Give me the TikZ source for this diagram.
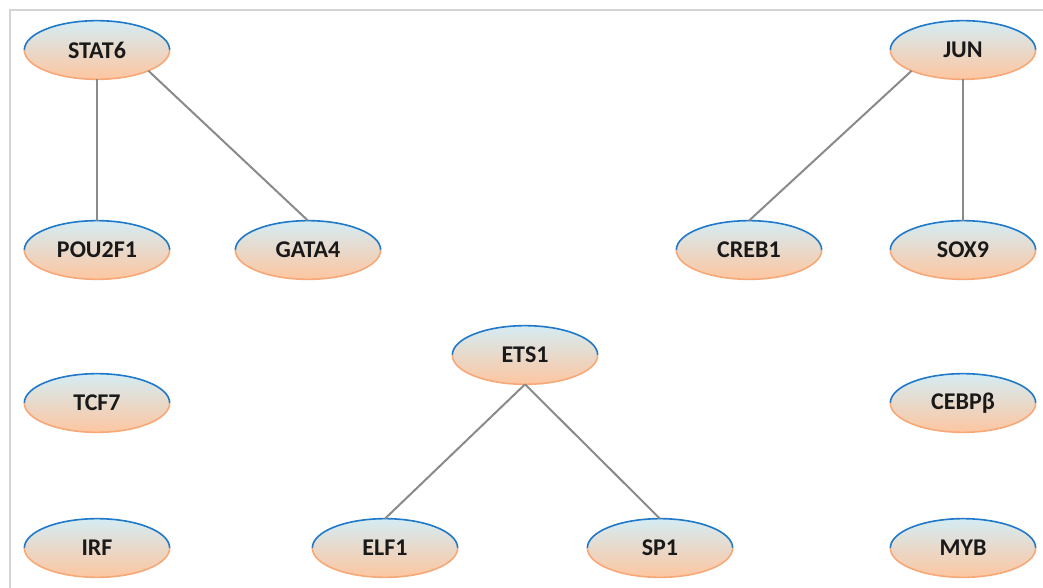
\documentclass[tikz,border=0pt]{standalone}
\usepackage{fontspec}
\setmainfont{Carlito}
\usetikzlibrary{shapes.geometric}
\definecolor{tfblue}{HTML}{1F78C8}
\definecolor{tforange}{HTML}{F7A878}
\definecolor{tftop}{HTML}{D4ECF4}
\definecolor{tfbottom}{HTML}{FDC6A0}
\definecolor{linkgray}{HTML}{8A8A8A}
\definecolor{framegray}{HTML}{D4D4D4}
\begin{document}
\begin{tikzpicture}[x=0.75pt,y=-0.75pt,
    tf/.style={ellipse,minimum width=109pt,minimum height=44pt,inner sep=0pt,outer sep=0pt,
        top color=tftop,bottom color=tfbottom,font=\bfseries\fontsize{18}{20}\selectfont,text=black!90},
    link/.style={linkgray,line width=1.5pt}]
    \useasboundingbox (0,0) rectangle (1043,588);
    % Frame
    \draw[framegray,line width=1.5pt] (10,588) -- (10,10) -- (1043,10);

    % Factors
    \node[tf] (stat6) at (97,50) {STAT6};
    \node[tf] (jun) at (963,50) {JUN};
    \node[tf] (pou2f1) at (97,250) {POU2F1};
    \node[tf] (gata4) at (308,250) {GATA4};
    \node[tf] (creb1) at (749,250) {CREB1};
    \node[tf] (sox9) at (963,250) {SOX9};
    \node[tf] (ets1) at (525,355) {ETS1};
    \node[tf] (tcf7) at (97,403) {TCF7};
    \node[tf] (cebpb) at (963,403) {CEBPβ};
    \node[tf] (irf) at (97,548) {IRF};
    \node[tf] (elf1) at (385,548) {ELF1};
    \node[tf] (sp1) at (660,548) {SP1};
    \node[tf] (myb) at (963,548) {MYB};

    % Outlines: blue upper half, orange lower half
    \foreach \n in {stat6,jun,pou2f1,gata4,creb1,sox9,ets1,tcf7,cebpb,irf,elf1,sp1,myb} {
        \draw[tfblue,line width=1.2pt] (\n.west) arc[start angle=180,end angle=0,x radius=54.5pt,y radius=22pt];
        \draw[tforange,line width=1.2pt] (\n.west) arc[start angle=180,end angle=360,x radius=54.5pt,y radius=22pt];
    }

    % Interactions
    \draw[link] (stat6) -- (pou2f1);
    \draw[link] (stat6.-22) -- (gata4.north);
    \draw[link] (jun.202) -- (creb1.north);
    \draw[link] (jun) -- (sox9);
    \draw[link] (ets1.south) -- (elf1.north);
    \draw[link] (ets1.south) -- (sp1.north);
\end{tikzpicture}
\end{document}
